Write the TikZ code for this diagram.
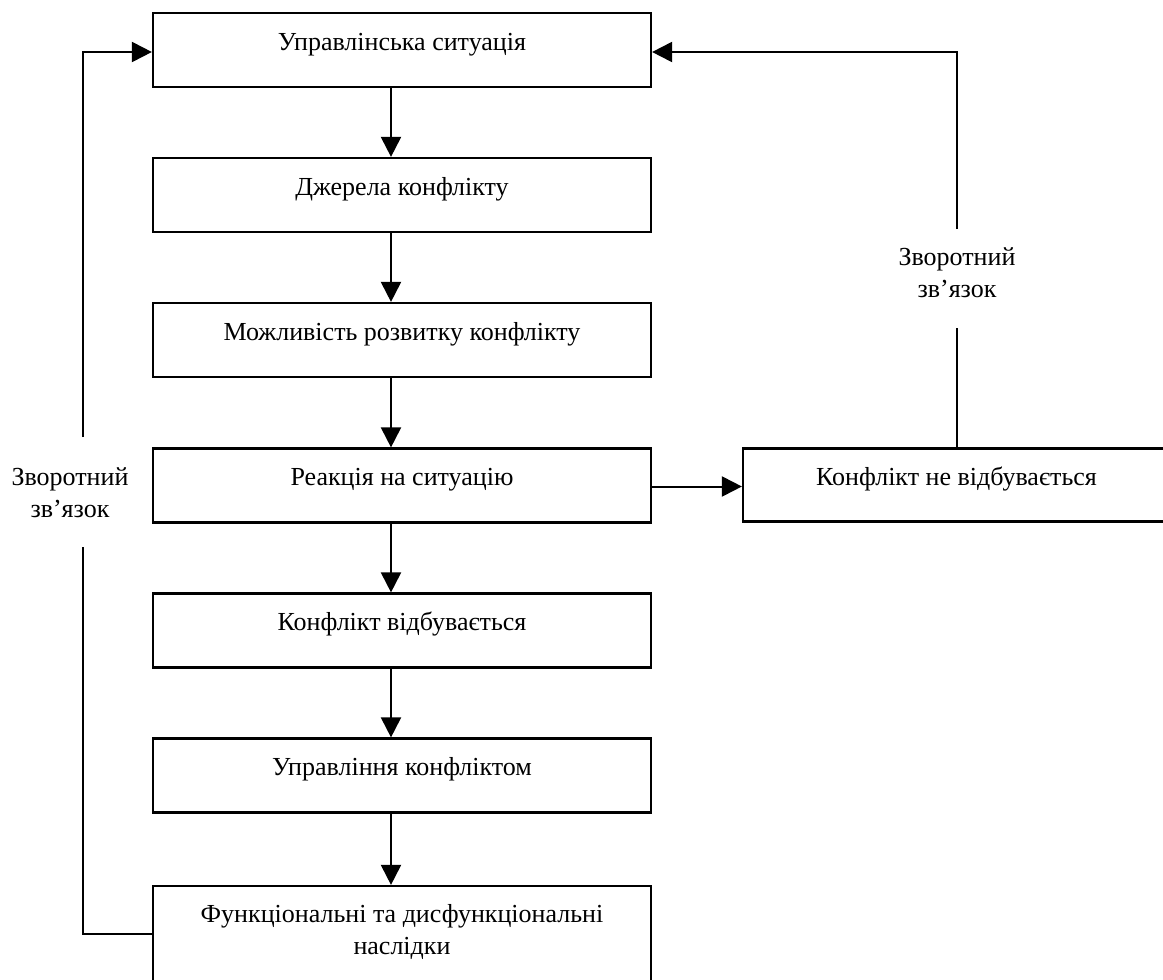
\documentclass[tikz,border=0pt]{standalone}
\usepackage{fontspec}
\setmainfont{Liberation Serif}
\usetikzlibrary{arrows.meta}
\begin{document}
\begin{tikzpicture}[x=1pt,y=-1pt,
  every node/.style={font=\fontsize{26}{31.5}\selectfont},
  box/.style={draw, line width=2.2pt, minimum width=498pt, minimum height=74pt, inner sep=0pt, text height=12pt, text depth=12pt},
  conn/.style={line width=2pt},
  arr/.style={conn, -{Triangle[length=20pt,width=20pt]}},
  lbl/.style={align=center, inner sep=0pt}]
\clip (0,0) rectangle (1163,980);
\fill[white] (0,0) rectangle (1163,980);
% boxes
\node[box] (b1) at (402,50) {Управлінська ситуація};
\node[box] (b2) at (402,195) {Джерела конфлікту};
\node[box] (b3) at (402,340) {Можливість розвитку конфлікту};
\node[box] (b4) at (402,485.5) {Реакція на ситуацію};
\node[box] (b5) at (402,630.5) {Конфлікт відбувається};
\node[box] (b6) at (402,775.5) {Управління конфліктом};
\node[box, minimum height=104pt, align=center, text height=48.5pt, text depth=16.5pt] (b7) at (402,938) {Функціональні та дисфункціональні\\наслідки};
\node[box, minimum width=427pt, minimum height=73pt] (b8) at (956.5,485) {Конфлікт не відбувається};
% labels
\node[lbl] (rl) at (957,272.5) {Зворотний\\зв’язок};
\node[lbl] (ll) at (70,492.5) {Зворотний\\зв’язок};
\coordinate (rg1) at (957,229);
\coordinate (rg2) at (957,328);
\coordinate (lg1) at (83,437);
\coordinate (lg2) at (83,547);
% main flow
\draw[arr] ([xshift=-11pt]b1.south) -- ([xshift=-11pt]b2.north);
\draw[arr] ([xshift=-11pt]b2.south) -- ([xshift=-11pt]b3.north);
\draw[arr] ([xshift=-11pt]b3.south) -- ([xshift=-11pt]b4.north);
\draw[arr] ([xshift=-11pt]b4.south) -- ([xshift=-11pt]b5.north);
\draw[arr] ([xshift=-11pt]b5.south) -- ([xshift=-11pt]b6.north);
\draw[arr] ([xshift=-11pt]b6.south) -- ([xshift=-11pt]b7.north);
\draw[arr] ([yshift=-1pt]b4.east) -- ([yshift=-1pt]b4.east -| b8.west);
% right feedback
\draw[conn] (rg2 |- b8.north) -- (rg2);
\draw[arr] (rg1) |- ([yshift=-2pt]b1.east);
% left feedback
\draw[arr] (lg1) |- ([yshift=-2pt]b1.west);
\draw[conn] (lg2) |- ([yshift=4pt]b7.west);
\end{tikzpicture}
\end{document}
